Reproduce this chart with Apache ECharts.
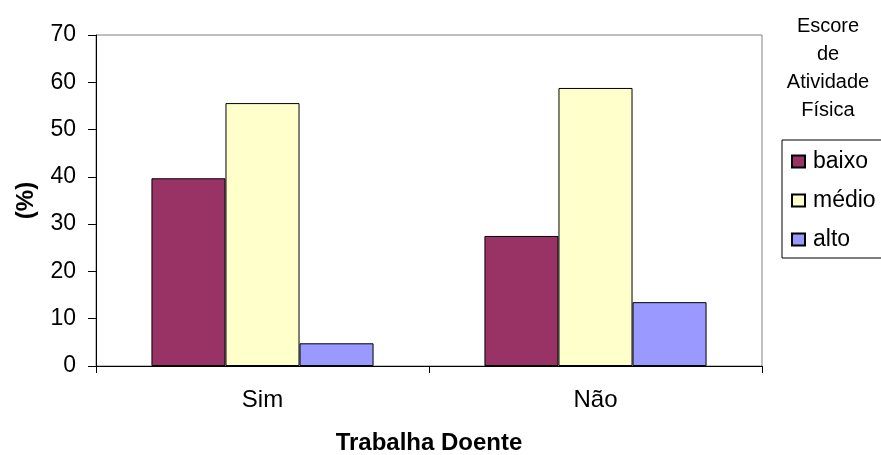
<!DOCTYPE html>
<html>
<head>
<meta charset="utf-8">
<script src="https://cdn.jsdelivr.net/npm/echarts@6/dist/echarts.min.js"></script>
<style>
  html, body { margin: 0; padding: 0; background: #fff; }
  #chart { width: 881px; height: 455px; }
</style>
</head>
<body>
<div id="chart"></div>
<script>
const categories = ['Sim', 'Não']
const baixo = [39.7, 27.5]
const medio = [55.6, 58.8]
const alto = [4.8, 13.5]
const seriesNames = ['baixo', 'médio', 'alto']
const legendTitle = 'Escore\nde\nAtividade\nFísica'

const FONT = '"Liberation Sans", Arial, sans-serif'
const colors = ['#993366', '#FFFFCC', '#9999FF']

const chart = echarts.init(document.getElementById('chart'))

const makeBar = (name, data, i) => ({
  name,
  type: 'bar',
  data,
  barGap: '0%',
  barCategoryGap: '33.3%',
  itemStyle: { color: colors[i], borderColor: '#000', borderWidth: 1 },
})

chart.setOption({
  animation: false,
  backgroundColor: '#fff',
  textStyle: { fontFamily: FONT },
  title: {
    text: legendTitle,
    left: 823,
    top: 7,
    textAlign: 'center',
    textStyle: { fontFamily: FONT, fontSize: 20, fontWeight: 'normal', color: '#000', lineHeight: 28, align: 'center' },
  },
  legend: {
    orient: 'vertical',
    left: 782,
    top: 140,
    padding: [10, 30, 7, 9],
    itemGap: 16,
    itemWidth: 13,
    itemHeight: 12,
    borderColor: '#000',
    borderWidth: 1,
    icon: 'rect',
    textStyle: { fontFamily: FONT, fontSize: 23, color: '#000', padding: [0, 0, 0, 3] },
    data: seriesNames,
  },
  grid: {
    left: 96, right: 119, top: 35, bottom: 89,
    outerBoundsMode: 'none',
    show: true, borderColor: '#808080', borderWidth: 1,
  },
  xAxis: {
    type: 'category',
    data: categories,
    name: 'Trabalha Doente',
    nameLocation: 'middle',
    nameGap: 65,
    nameTextStyle: { fontFamily: FONT, fontSize: 24, fontWeight: 'bold', color: '#000' },
    axisLine: { lineStyle: { color: '#000', width: 1 } },
    axisTick: { show: true, length: 7, lineStyle: { color: '#000' } },
    axisLabel: { fontFamily: FONT, fontSize: 24, color: '#000', margin: 22 },
  },
  yAxis: {
    type: 'value',
    min: 0, max: 70, interval: 10,
    name: '(%)',
    nameLocation: 'middle',
    nameGap: 58,
    nameTextStyle: { fontFamily: FONT, fontSize: 24, fontWeight: 'bold', color: '#000' },
    axisLine: { show: true, lineStyle: { color: '#000', width: 1 } },
    axisTick: { show: true, length: 8, lineStyle: { color: '#000' } },
    axisLabel: { fontFamily: FONT, fontSize: 23, color: '#000', margin: 20 },
    splitLine: { show: false },
  },
  series: [
    makeBar(seriesNames[0], baixo, 0),
    makeBar(seriesNames[1], medio, 1),
    makeBar(seriesNames[2], alto, 2),
  ],
})
</script>
</body>
</html>
